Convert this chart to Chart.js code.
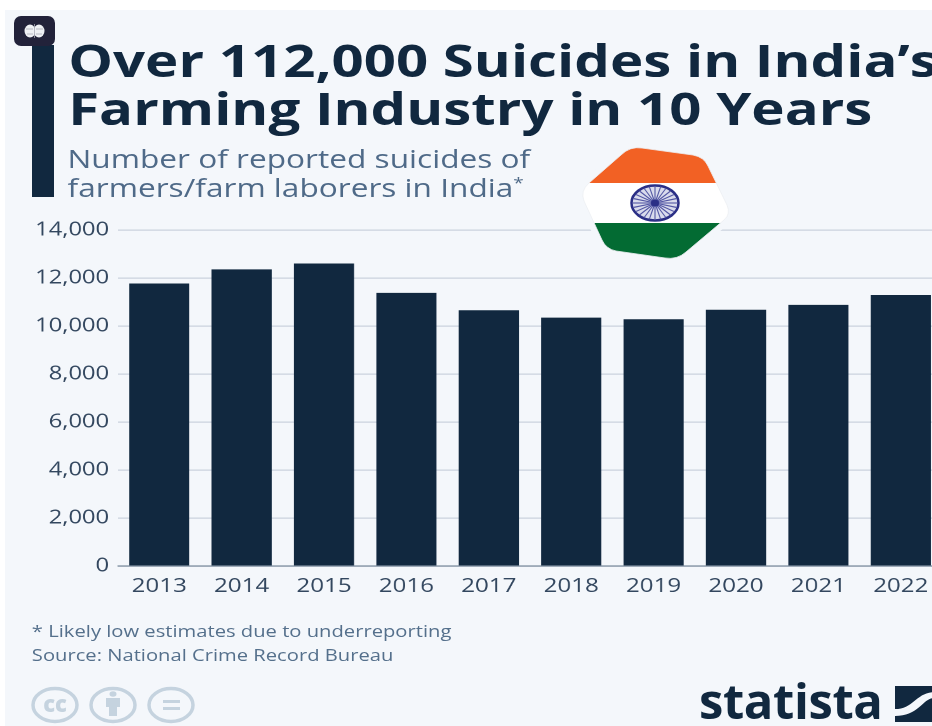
<!DOCTYPE html>
<html lang="en">
<head>
<meta charset="utf-8">
<title>Over 112,000 Suicides in India's Farming Industry in 10 Years</title>
<script src="https://cdn.jsdelivr.net/npm/chart.js@4"></script>
<style>
  html, body { margin: 0; padding: 0; width: 932px; height: 726px; overflow: hidden; background: #fff; }
  #panel { position: absolute; left: 5px; top: 10px; width: 927px; height: 716px; background: #f4f7fb; }
  #stage { position: absolute; left: 0; top: 0; width: 756px; height: 726px;
           transform: scaleX(1.27); transform-origin: 0 0; font-family: "Open Sans", sans-serif; }
  #stage canvas { position: absolute; left: 0; top: 0; }
  .txt { position: absolute; white-space: nowrap; }
  #title { left: 53.7px; top: 36px; font-size: 44.4px; line-height: 48px; font-weight: 700; color: #11283f; }
  #sub { left: 53.2px; top: 144px; font-size: 24.9px; line-height: 29px; color: #4f6a88; }
  #sub sup { font-size: 15px; line-height: 0; }
  #note { left: 25.1px; top: 619px; font-size: 15.9px; line-height: 24px; color: #55708c; }
  #brand { left: 699px; top: 670px; font-size: 49px; line-height: 60px; font-weight: 700; color: #11283f;
           font-family: "Open Sans", sans-serif; letter-spacing: -0.4px; }
  #rule { position: absolute; left: 32px; top: 45px; width: 22px; height: 152px; background: #11283f; }
  svg { position: absolute; left: 0; top: 0; }
</style>
</head>
<body>
<div id="panel"></div>
<div id="rule"></div>
<div id="stage">
  <canvas id="chart" width="756" height="726"></canvas>
  <div class="txt" id="title">Over 112,000 Suicides in India’s<br>Farming Industry in 10 Years</div>
  <div class="txt" id="sub">Number of reported suicides of<br>farmers/farm laborers in India<sup>*</sup></div>
  <div class="txt" id="note">* Likely low estimates due to underreporting<br>Source: National Crime Record Bureau</div>
</div>
<div class="txt" id="brand">statista</div>
<svg width="932" height="726" viewBox="0 0 932 726">
  <defs>
    <clipPath id="flagShape">
      <path id="flagPath" d="M589 183 L621 155 Q630 146 642 148 L693 155 Q704 157 708 166 L727 205 Q731 214 724 220 L686 252 Q677 260 665 258 L616 251 Q606 249 602 240 L584 201 Q580 191 589 183 Z"/>
    </clipPath>
  </defs>
  <!-- badge with brain glyph -->
  <rect x="14" y="16" width="41" height="30" rx="7" fill="#22223a"/>
  <g fill="#eef0f4">
    <ellipse cx="30" cy="31" rx="5.5" ry="6.5"/>
    <ellipse cx="39" cy="31" rx="5.5" ry="6.5"/>
  </g>
  <g stroke="#a9abb8" stroke-width="0.8" fill="none">
    <path d="M34.5 24 V38 M26 29 H33 M27 34 H33 M36 29 H43 M36 34 H42"/>
  </g>
  <!-- flag -->
  <use href="#flagPath" fill="#f4f7fb" stroke="#f4f7fb" stroke-width="12"/>
  <g clip-path="url(#flagShape)">
    <rect x="575" y="140" width="165" height="43" fill="#f26124"/>
    <rect x="575" y="183" width="165" height="40" fill="#ffffff"/>
    <rect x="575" y="223" width="165" height="40" fill="#036b33"/>
  </g>
  <use href="#flagPath" fill="none" stroke="#eceff3" stroke-width="0.8"/>
  <ellipse cx="655" cy="203" rx="23.5" ry="17.5" fill="#d9dbec" stroke="#2b2f86" stroke-width="2.5"/>
  <g id="spokes" stroke="#5357a4" stroke-width="1.1"></g>
  <ellipse cx="655" cy="203" rx="4" ry="3.5" fill="#2b2f86"/>
  <!-- licence icons -->
  <g fill="none" stroke="#c5d3df" stroke-width="3.5">
    <ellipse cx="55" cy="705" rx="22" ry="16.5"/>
    <ellipse cx="113" cy="705" rx="22" ry="16.5"/>
    <ellipse cx="171" cy="705" rx="22" ry="16.5"/>
  </g>
  <g fill="#c5d3df">
    <path d="M106 698 H120 V707 H117 V716 H109 V707 H106 Z"/>
    <ellipse cx="113" cy="694" rx="3.5" ry="2.8"/>
    <rect x="163" y="700" width="17" height="3"/>
    <rect x="163" y="707" width="17" height="3"/>
    <text x="55" y="712" text-anchor="middle" font-family="Open Sans" font-weight="800" font-size="22">cc</text>
  </g>
  <!-- wave mark next to the wordmark -->
  <rect x="895" y="686" width="40" height="36" fill="#11283f"/>
  <path d="M895 709 C914 709 916 692 935 692 V698 C922 698 920 716 895 716 Z" fill="#f4f7fb"/>
</svg>
<script>
  const years = ["2013","2014","2015","2016","2017","2018","2019","2020","2021","2022"];
  const suicides = [11772, 12360, 12602, 11379, 10655, 10349, 10281, 10677, 10881, 11290];
  const yTicks = [0, 2000, 4000, 6000, 8000, 10000, 12000, 14000];

  const stretch = 1.27;
  const navy = "#11283f";
  const labelColor = "#33475f";

  // Wheel spokes on the flag
  const spokes = document.getElementById("spokes");
  for (let i = 0; i < 24; i++) {
    const a = i * Math.PI / 12;
    const line = document.createElementNS("http://www.w3.org/2000/svg", "line");
    line.setAttribute("x1", 655);
    line.setAttribute("y1", 203);
    line.setAttribute("x2", 655 + 22 * Math.cos(a));
    line.setAttribute("y2", 203 + 17 * Math.sin(a));
    spokes.appendChild(line);
  }

  const canvasWidth = 756;
  const plotRight = 942 / stretch;

  new Chart(document.getElementById("chart"), {
    type: "bar",
    data: {
      labels: years,
      datasets: [{ data: suicides, backgroundColor: navy, barPercentage: 0.73, categoryPercentage: 1 }]
    },
    options: {
      responsive: false,
      animation: false,
      devicePixelRatio: 2,
      layout: { padding: { top: 230, right: canvasWidth - plotRight, bottom: 0, left: 0 } },
      plugins: { legend: { display: false }, tooltip: { enabled: false } },
      scales: {
        x: {
          afterFit(scale) { scale.height = 160; },
          grid: { display: false, drawTicks: false },
          border: { color: "#5f7286", width: 1 },
          ticks: { color: labelColor, font: { family: "Open Sans", size: 19 }, maxRotation: 0, padding: 9, autoSkip: false }
        },
        y: {
          min: 0,
          max: 14000,
          afterFit(scale) { scale.width = 118 / stretch; },
          afterBuildTicks(scale) { scale.ticks = yTicks.map(value => ({ value })); },
          grid: { color: "#cbd2dd", lineWidth: 1.2, drawTicks: false },
          border: { display: false },
          ticks: {
            color: labelColor,
            font: { family: "Open Sans", size: 18.7 },
            padding: 7,
            callback: value => value.toLocaleString("en-US")
          }
        }
      }
    }
  });
</script>
</body>
</html>
